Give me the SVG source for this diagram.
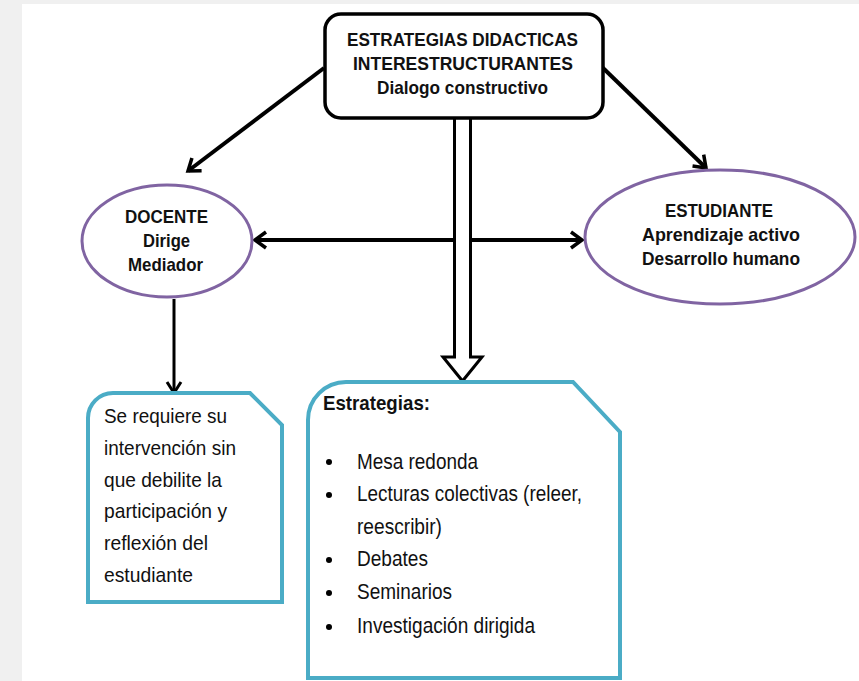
<svg xmlns="http://www.w3.org/2000/svg" width="859" height="681" viewBox="0 0 859 681">
<style>
.t{font-family:"Liberation Sans Narrow","Liberation Sans",Arial,sans-serif;fill:#111}
.b{font-weight:bold}
.ell{fill:#fff;stroke:#8064a2;stroke-width:3}
.box{fill:#fff;stroke:#4bacc6;stroke-width:4;stroke-linejoin:miter}
.ln{fill:none;stroke:#000;stroke-width:4}
</style>
<defs>
<marker id="ah" viewBox="0 0 16 20" refX="13" refY="10" markerWidth="16" markerHeight="20" markerUnits="userSpaceOnUse" orient="auto-start-reverse">
<path d="M2,2 L13,10 L2,18" fill="none" stroke="#000" stroke-width="3.5"/>
</marker>
<marker id="ah2" viewBox="0 0 16 18" refX="13" refY="9" markerWidth="16" markerHeight="18" markerUnits="userSpaceOnUse" orient="auto">
<path d="M2,2 L13,9 L2,16" fill="none" stroke="#000" stroke-width="3"/>
</marker>
</defs>
<rect width="859" height="681" fill="#f0f0f0"/>
<rect x="22" y="4" width="837" height="677" fill="#fff"/>

<g id="connectors">
<line class="ln" x1="324" y1="68" x2="188" y2="171" marker-end="url(#ah)"/>
<line class="ln" x1="602" y1="67" x2="706" y2="168" marker-end="url(#ah)"/>
<line class="ln" x1="255" y1="240" x2="582" y2="240" marker-start="url(#ah)" marker-end="url(#ah)"/>
<line x1="174" y1="299" x2="174" y2="393" stroke="#000" stroke-width="3" marker-end="url(#ah2)"/>
<polygon points="454.5,116 470.5,116 470.5,357 482,357 462.5,381 443,357 454.5,357" fill="#fff" stroke="#000" stroke-width="3" stroke-linejoin="miter"/>
</g>

<g id="title">
<rect x="325" y="14" width="278" height="104" rx="16" ry="16" fill="#fff" stroke="#000" stroke-width="3.5"/>
<text class="t b" font-size="19" x="347" y="46" textLength="231" lengthAdjust="spacingAndGlyphs">ESTRATEGIAS DIDACTICAS</text>
<text class="t b" font-size="19" x="353" y="70" textLength="220" lengthAdjust="spacingAndGlyphs">INTERESTRUCTURANTES</text>
<text class="t b" font-size="19" x="377" y="94" textLength="171" lengthAdjust="spacingAndGlyphs">Dialogo constructivo</text>
</g>

<g id="docente">
<ellipse class="ell" cx="167" cy="241" rx="85" ry="56"/>
<text class="t b" font-size="19" x="125" y="223" textLength="83" lengthAdjust="spacingAndGlyphs">DOCENTE</text>
<text class="t b" font-size="19" x="143" y="247" textLength="47" lengthAdjust="spacingAndGlyphs">Dirige</text>
<text class="t b" font-size="19" x="128" y="271" textLength="75" lengthAdjust="spacingAndGlyphs">Mediador</text>
</g>

<g id="estudiante">
<ellipse class="ell" cx="720" cy="237" rx="135" ry="67"/>
<text class="t b" font-size="19" x="665" y="217" textLength="108" lengthAdjust="spacingAndGlyphs">ESTUDIANTE</text>
<text class="t b" font-size="19" x="642" y="241" textLength="158" lengthAdjust="spacingAndGlyphs">Aprendizaje activo</text>
<text class="t b" font-size="19" x="642" y="265" textLength="158" lengthAdjust="spacingAndGlyphs">Desarrollo humano</text>
</g>

<g id="nota">
<path class="box" d="M88,602 L88,418 A25,25 0 0 1 113,393 L250,393 L282,425 L282,602 Z"/>
<text class="t" font-size="21" x="104" y="423" textLength="123" lengthAdjust="spacingAndGlyphs">Se requiere su</text>
<text class="t" font-size="21" x="104" y="455" textLength="132" lengthAdjust="spacingAndGlyphs">intervención sin</text>
<text class="t" font-size="21" x="104" y="487" textLength="118" lengthAdjust="spacingAndGlyphs">que debilite la</text>
<text class="t" font-size="21" x="104" y="518" textLength="123" lengthAdjust="spacingAndGlyphs">participación y</text>
<text class="t" font-size="21" x="104" y="550" textLength="104" lengthAdjust="spacingAndGlyphs">reflexión del</text>
<text class="t" font-size="21" x="104" y="582" textLength="89" lengthAdjust="spacingAndGlyphs">estudiante</text>
</g>

<g id="estrategias">
<path class="box" d="M308,678 L308,420 A38,38 0 0 1 346,382 L573,382 L620,432 L620,678 Z"/>
<text class="t b" font-size="21" x="323" y="410" textLength="107" lengthAdjust="spacingAndGlyphs">Estrategias:</text>
<g fill="#000">
<circle cx="329" cy="462" r="3"/>
<circle cx="329" cy="495" r="3"/>
<circle cx="329" cy="560" r="3"/>
<circle cx="329" cy="593" r="3"/>
<circle cx="329" cy="627" r="3"/>
</g>
<text class="t" font-size="22" x="357" y="469" textLength="121" lengthAdjust="spacingAndGlyphs">Mesa redonda</text>
<text class="t" font-size="22" x="357" y="501" textLength="225" lengthAdjust="spacingAndGlyphs">Lecturas colectivas (releer,</text>
<text class="t" font-size="22" x="357" y="534" textLength="85" lengthAdjust="spacingAndGlyphs">reescribir)</text>
<text class="t" font-size="22" x="357" y="566" textLength="71" lengthAdjust="spacingAndGlyphs">Debates</text>
<text class="t" font-size="22" x="357" y="599" textLength="95" lengthAdjust="spacingAndGlyphs">Seminarios</text>
<text class="t" font-size="22" x="357" y="633" textLength="178" lengthAdjust="spacingAndGlyphs">Investigación dirigida</text>
</g>
</svg>
